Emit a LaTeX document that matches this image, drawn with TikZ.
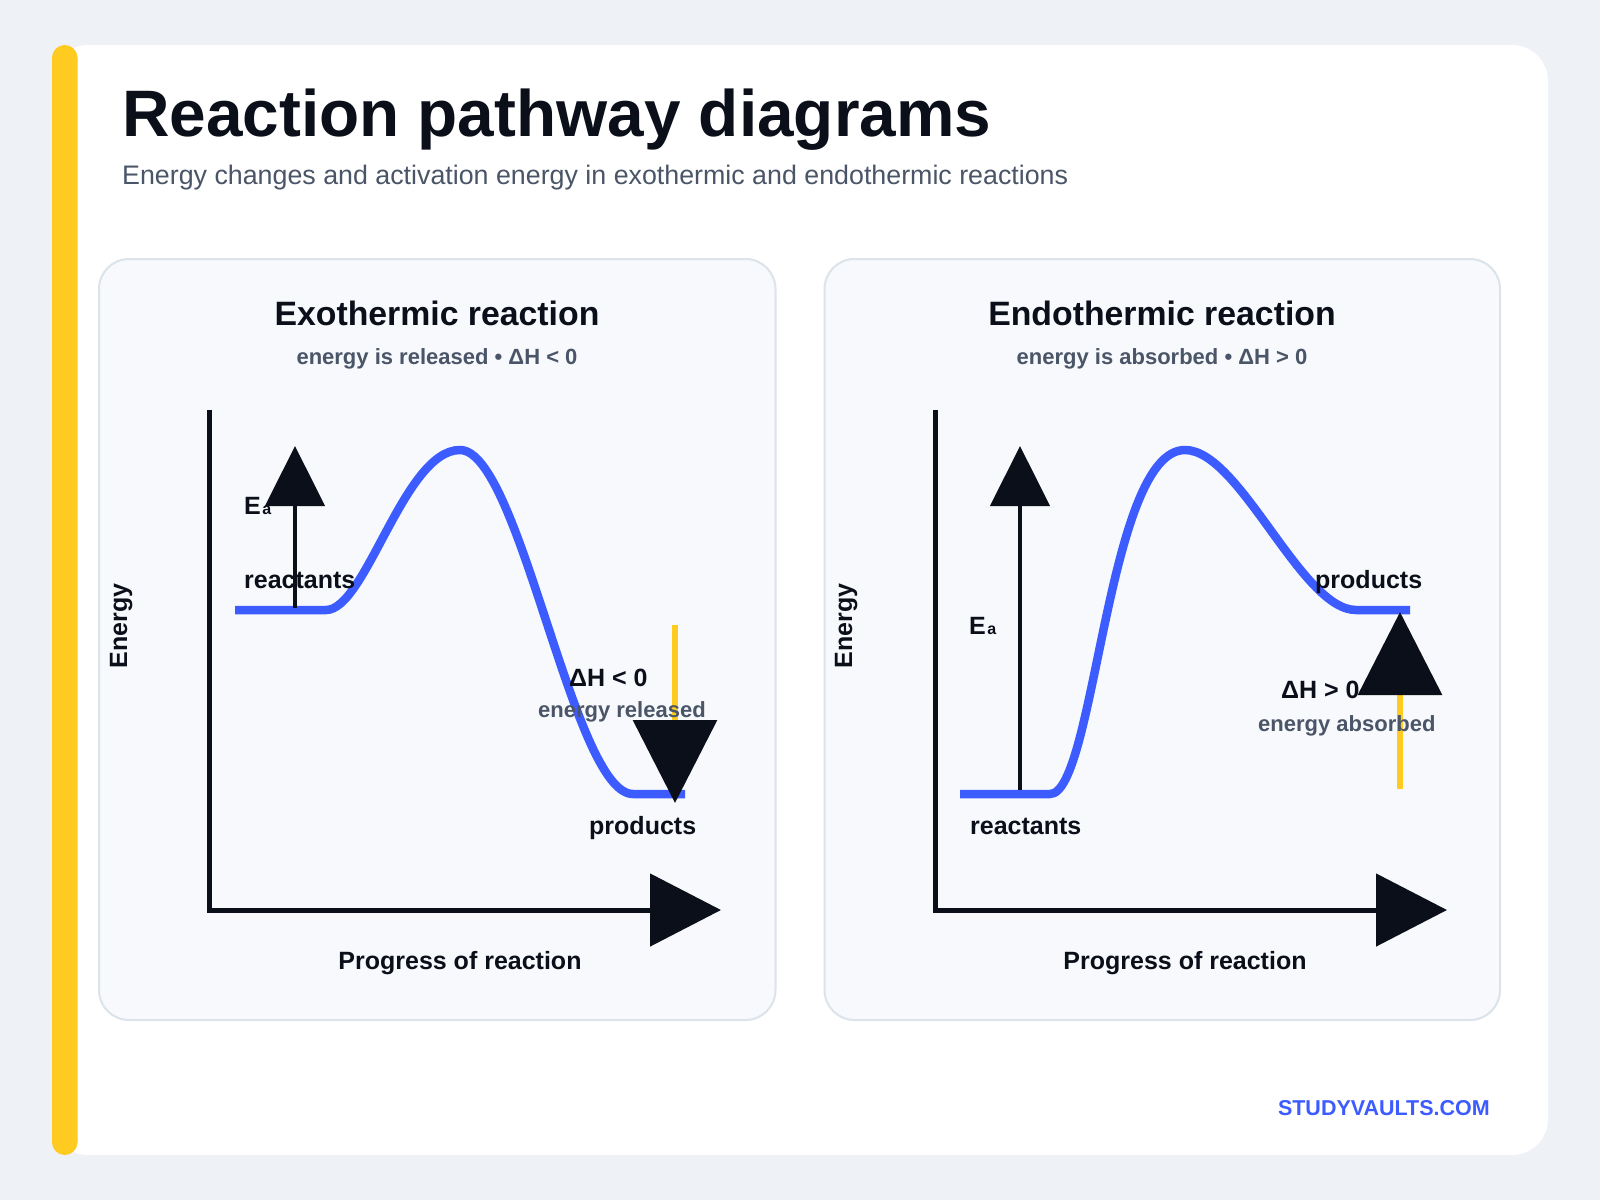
\documentclass[tikz,border=0pt]{standalone}
\usepackage{fontspec}
\setmainfont{Liberation Sans}
\usetikzlibrary{arrows.meta}
\definecolor{bgc}{HTML}{EEF2F7}
\definecolor{ink}{HTML}{0B0F19}
\definecolor{grayc}{HTML}{4A5568}
\definecolor{bluec}{HTML}{3D5CFF}
\definecolor{yellowc}{HTML}{FFCB21}
\definecolor{panelfill}{HTML}{F7F9FC}
\definecolor{panelborder}{HTML}{DCE3EB}
\newcommand{\fsz}[1]{\fontsize{#1}{#1}\selectfont}
\tikzset{
  lbl/.style={inner sep=0, text=ink, font=\fsz{25}\bfseries},
  sublbl/.style={inner sep=0, text=grayc, font=\fsz{22}\bfseries},
  ptitle/.style={inner sep=0, anchor=base, text=ink, font=\fsz{33.8}\bfseries},
  psub/.style={inner sep=0, anchor=base, text=grayc, font=\fsz{22}\bfseries},
  panelbox/.style={draw=panelborder, line width=2, fill=panelfill, rounded corners=30},
  curve/.style={draw=bluec, line width=8.5, line cap=butt, line join=round},
  axisline/.style={draw=ink, line width=5, line cap=butt, line join=miter, -{Triangle[length=71pt,width=72pt,color=ink]}},
  eaarrow/.style={draw=ink, line width=4.5, line cap=butt, -{Triangle[length=60pt,width=59pt,color=ink]}},
  dharrow/.style={draw=yellowc, line width=6.5, line cap=butt, -{Triangle[length=83pt,width=83pt,color=ink]}},
}
\begin{document}
\begin{tikzpicture}[x=1pt,y=-1pt]
\useasboundingbox (0,0) rectangle (1600,1200);
\fill[bgc] (0,0) rectangle (1600,1200);
\fill[white, rounded corners=36] (52,45) rectangle (1548,1155);
\fill[yellowc, rounded corners=12.7] (52,45) rectangle (77.5,1155);

\node[anchor=base west, inner sep=0, text=ink, font=\fsz{65.7}\bfseries] (title) at (122,136) {Reaction pathway diagrams};
\node[anchor=base west, inner sep=0, text=grayc, font=\fsz{26.8}] (subtitle) at (122,184) {Energy changes and activation energy in exothermic and endothermic reactions};

% panels
\draw[panelbox] (99,259) rectangle (775.5,1020);
\draw[panelbox] (824.5,259) rectangle (1500,1020);

% ---------- left panel (exothermic) ----------
\coordinate (LaxTop) at (209,410);
\coordinate (LaxO) at (209,910);
\coordinate (LaxEnd) at (721,910);
\draw[axisline] (LaxTop) -- (LaxO) -- (LaxEnd);

\coordinate (Lr0) at (235,610);
\coordinate (Lr1) at (326,610);
\coordinate (Lpk) at (460,450);
\coordinate (Lp0) at (633,794);
\coordinate (Lp1) at (685,794);
\draw[curve] (Lr0) -- (Lr1) .. controls (366,610) and (404,450) .. (Lpk)
  .. controls (520,450) and (573,794) .. (Lp0) -- (Lp1);

\coordinate (LeaS) at (295,608);
\coordinate (LeaT) at (295,446);
\draw[eaarrow] (LeaS) -- (LeaT);
\coordinate (LdhS) at (675,625);
\coordinate (LdhT) at (675,803);
\draw[dharrow] (LdhS) -- (LdhT);

\node[ptitle] (ltitle) at (437,325) {Exothermic reaction};
\node[psub] (lsub) at (437,364) {energy is released • ΔH < 0};
\node[lbl, anchor=base west] (lea) at (244,514) {E\kern1.5pt{\fsz{16}a}};
\node[lbl, anchor=base west] (lreact) at (244,588) {reactants};
\node[lbl, anchor=base west] (ldh) at (569,686) {ΔH < 0};
\node[sublbl, anchor=base west] (ldhsub) at (538,717) {energy released};
\node[lbl, anchor=base west] (lprod) at (589,834) {products};
\node[lbl, anchor=base, rotate=90] (lyl) at (127,626) {Energy};
\node[lbl, anchor=base] (lxl) at (460,969) {Progress of reaction};

% ---------- right panel (endothermic) ----------
\coordinate (RaxTop) at (935,410);
\coordinate (RaxO) at (935,910);
\coordinate (RaxEnd) at (1447,910);
\draw[axisline] (RaxTop) -- (RaxO) -- (RaxEnd);

\coordinate (Rr0) at (960,794);
\coordinate (Rr1) at (1050,794);
\coordinate (Rpk) at (1185,450);
\coordinate (Rp0) at (1356,610);
\coordinate (Rp1) at (1410,610);
\draw[curve] (Rr0) -- (Rr1) .. controls (1095,794) and (1107,450) .. (Rpk)
  .. controls (1240,450) and (1301,610) .. (Rp0) -- (Rp1);

\coordinate (ReaS) at (1020,790);
\coordinate (ReaT) at (1020,446);
\draw[eaarrow] (ReaS) -- (ReaT);
\coordinate (RdhS) at (1400,789);
\coordinate (RdhT) at (1400,612);
\draw[dharrow] (RdhS) -- (RdhT);

\node[ptitle] (rtitle) at (1162,325) {Endothermic reaction};
\node[psub] (rsub) at (1162,364) {energy is absorbed • ΔH > 0};
\node[lbl, anchor=base west] (rea) at (969,634) {E\kern1.5pt{\fsz{16}a}};
\node[lbl, anchor=base west] (rreact) at (970,834) {reactants};
\node[lbl, anchor=base west] (rprod) at (1315,588) {products};
\node[lbl, anchor=base west] (rdh) at (1281,698) {ΔH > 0};
\node[sublbl, anchor=base west] (rdhsub) at (1258,731) {energy absorbed};
\node[lbl, anchor=base, rotate=90] (ryl) at (852,626) {Energy};
\node[lbl, anchor=base] (rxl) at (1185,969) {Progress of reaction};

\node[anchor=base east, inner sep=0, text=bluec, font=\fsz{21.5}\bfseries] (brand) at (1490,1115) {STUDYVAULTS.COM};
\end{tikzpicture}
\end{document}
